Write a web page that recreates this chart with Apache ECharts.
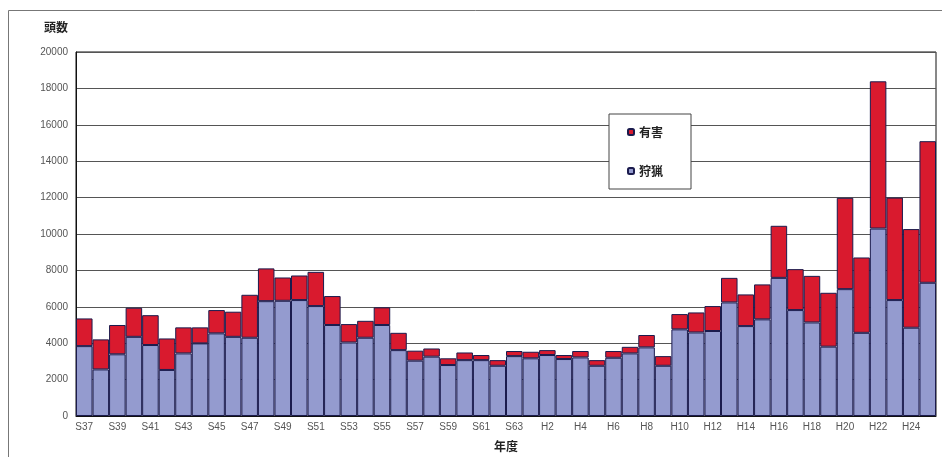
<!DOCTYPE html>
<html><head><meta charset="utf-8">
<script src="https://cdn.jsdelivr.net/npm/echarts@6/dist/echarts.min.js"></script>
<style>html,body{margin:0;padding:0;background:#fff}#c{width:942px;height:457px}</style>
</head><body><div id="c"></div>
<script>
const years = [
 'S37','S38','S39','S40','S41','S42','S43','S44','S45','S46','S47','S48','S49','S50','S51','S52','S53','S54','S55','S56','S57','S58','S59','S60','S61','S62','S63',
 'H1','H2','H3','H4','H5','H6','H7','H8','H9','H10','H11','H12','H13','H14','H15','H16','H17','H18','H19','H20','H21','H22','H23','H24','H25'
];
const hunting = [
 3840,2560,3390,4350,3900,2530,3440,3990,4540,4350,4300,6310,6330,6370,6040,5000,4040,4300,5000,3620,3040,3260,2800,3070,3070,2760,3290,
 3170,3350,3130,3220,2760,3200,3440,3770,2760,4760,4590,4670,6240,4940,5310,7590,5820,5140,3810,6970,4570,10300,6370,4850,7320
];
const totals = [
 5360,4210,5000,5950,5540,4260,4870,4870,5820,5730,6660,8110,7610,7720,7920,6590,5050,5230,5970,4570,3590,3710,3170,3490,3350,3070,3570,
 3530,3620,3350,3570,3070,3570,3800,4450,3290,5600,5690,6040,7590,6680,7230,10450,8070,7700,6770,11990,8710,18390,12000,10270,15100
];
const nuisance = totals.map((t,i)=>t-hunting[i]);
const yTicks = {min:0,max:20000,interval:2000};

const chart = echarts.init(document.getElementById('c'));
chart.setOption({
  animation:false,
  textStyle:{fontFamily:'Liberation Sans, Arial, sans-serif'},
  graphic:[{type:'rect',shape:{x:8.5,y:10.5,width:960,height:480},style:{fill:'none',stroke:'#777',lineWidth:1},silent:true}],
  grid:{left:76,right:6,top:52,bottom:41,show:true,borderColor:'#111',borderWidth:1,backgroundColor:'transparent'},
  legend:{
    orient:'vertical',left:609,top:114,
    padding:[12,28,12,18],itemGap:27,itemWidth:6,itemHeight:6,
    backgroundColor:'#fff',borderColor:'#444',borderWidth:1,
    data:['有害','狩猟'],
    textStyle:{fontSize:12,fontWeight:'bold',color:'#222',fontFamily:'Noto Sans CJK JP'}
  },
  xAxis:{
    type:'category',data:years,name:'年度',nameLocation:'middle',nameGap:24,
    nameTextStyle:{fontSize:12,fontWeight:'bold',color:'#222',fontFamily:'Noto Sans CJK JP'},
    axisTick:{show:false},axisLine:{lineStyle:{color:'#111'}},
    axisLabel:{interval:1,fontSize:10,color:'#555',margin:6}
  },
  yAxis:{
    type:'value',min:yTicks.min,max:yTicks.max,interval:yTicks.interval,
    name:'頭数',nameLocation:'end',nameGap:19,
    nameTextStyle:{fontSize:12,fontWeight:'bold',color:'#222',align:'right',padding:[0,8,0,0],fontFamily:'Noto Sans CJK JP'},
    axisLine:{show:true,lineStyle:{color:'#111'}},axisTick:{show:false},
    axisLabel:{fontSize:10,color:'#555',margin:8,formatter:v=>String(v)},
    splitLine:{lineStyle:{color:'#555',width:1}}
  },
  series:[
    {name:'狩猟',type:'bar',stack:'a',data:hunting,barCategoryGap:0,
     itemStyle:{color:'#949bcf',borderColor:'#1b1b4d',borderWidth:1}},
    {name:'有害',type:'bar',stack:'a',data:nuisance,barCategoryGap:0,
     itemStyle:{color:'#d91a2e',borderColor:'#1b1b4d',borderWidth:1}}
  ]
});
</script></body></html>
